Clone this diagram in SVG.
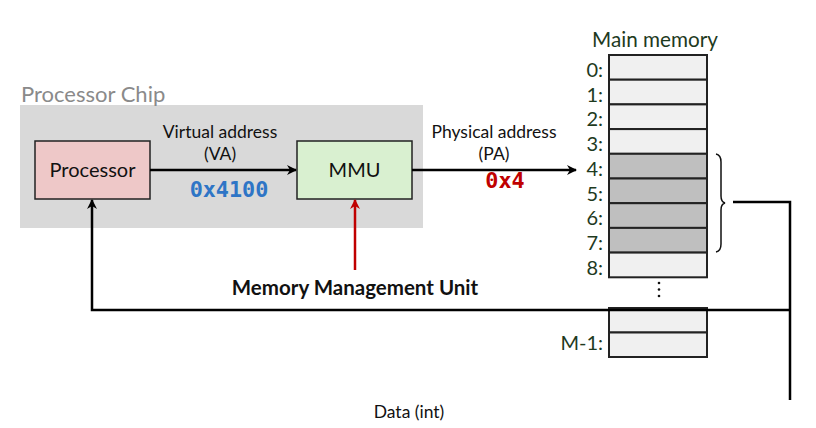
<svg xmlns="http://www.w3.org/2000/svg" width="816" height="428" viewBox="0 0 816 428">
<defs>
<marker id="ah" viewBox="0 0 10 10" refX="9" refY="5" markerWidth="10" markerHeight="10" markerUnits="userSpaceOnUse" orient="auto">
<path d="M0,0 L10,5 L0,10 L3,5 Z" fill="#000"/>
</marker>
<marker id="ahr" viewBox="0 0 10 10" refX="9" refY="5" markerWidth="10" markerHeight="10" markerUnits="userSpaceOnUse" orient="auto">
<path d="M0,0 L10,5 L0,10 L3,5 Z" fill="#c00000"/>
</marker>
<style>
text{font-family:Lato,"Liberation Sans",sans-serif}
.lbl{font-size:17.5px;fill:#111;text-anchor:middle}
.mem{font-size:20px;fill:#1e3a1e;text-anchor:end}
.cell{fill:#f0f0f0;stroke:#222;stroke-width:2}
.dark{fill:#bfbfbf;stroke:#222;stroke-width:2}
.conn{fill:none;stroke:#000;stroke-width:2.5}
.code{font-family:"DejaVu Sans Mono","Liberation Mono",monospace;font-weight:bold;font-size:21.8px;text-anchor:middle}
</style>
</defs>
<g id="chip">
<rect x="20" y="105" width="403" height="123" fill="#d9d9d9"/>
<text x="21" y="102" font-size="22" fill="#8a8a8a">Processor Chip</text>
</g>
<g id="processor">
<rect x="35" y="141" width="115" height="58" fill="#eec8c8" stroke="#222" stroke-width="1.5"/>
<text x="92.5" y="177" font-size="20" text-anchor="middle" fill="#111">Processor</text>
</g>
<g id="mmu">
<rect x="297" y="141" width="115" height="58" fill="#d9f0d0" stroke="#222" stroke-width="1.5"/>
<text x="354.5" y="177" font-size="20" text-anchor="middle" fill="#111">MMU</text>
</g>
<g id="memory">
<text x="655" y="47" font-size="20.7" text-anchor="middle" fill="#1e3a1e">Main memory</text>
<rect class="cell" x="609" y="55" width="98" height="24.7"/>
<rect class="cell" x="609" y="79.7" width="98" height="24.7"/>
<rect class="cell" x="609" y="104.4" width="98" height="24.7"/>
<rect class="cell" x="609" y="129.1" width="98" height="24.7"/>
<rect class="dark" x="609" y="153.8" width="98" height="24.7"/>
<rect class="dark" x="609" y="178.5" width="98" height="24.7"/>
<rect class="dark" x="609" y="203.2" width="98" height="24.7"/>
<rect class="dark" x="609" y="227.9" width="98" height="24.7"/>
<rect class="cell" x="609" y="252.6" width="98" height="24.7"/>
<rect class="cell" x="609" y="308" width="98" height="24.5"/>
<rect class="cell" x="609" y="332.5" width="98" height="24.5"/>
<text class="mem" x="603" y="77">0:</text>
<text class="mem" x="603" y="101.7">1:</text>
<text class="mem" x="603" y="126.4">2:</text>
<text class="mem" x="603" y="151.1">3:</text>
<text class="mem" x="603" y="175.8">4:</text>
<text class="mem" x="603" y="200.5">5:</text>
<text class="mem" x="603" y="225.2">6:</text>
<text class="mem" x="603" y="249.9">7:</text>
<text class="mem" x="603" y="274.6">8:</text>
<text class="mem" x="603" y="350">M-1:</text>
<circle cx="659" cy="283" r="1.3" fill="#111"/>
<circle cx="659" cy="289.5" r="1.3" fill="#111"/>
<circle cx="659" cy="296" r="1.3" fill="#111"/>
<path d="M716,154 Q721,155 721,162 L721,196 Q721,202 725,203 Q721,204 721,210 L721,244 Q721,251 716,252" fill="none" stroke="#111" stroke-width="1.5"/>
</g>
<g id="labels">
<text class="lbl" x="220" y="138">Virtual address</text>
<text class="lbl" x="220" y="160">(VA)</text>
<text class="code" x="229" y="197" fill="#2e75c6">0x4100</text>
<text class="lbl" x="494" y="138">Physical address</text>
<text class="lbl" x="494" y="160">(PA)</text>
<text class="code" x="505" y="188" fill="#c00000">0x4</text>
<text x="355" y="295" font-size="20.5" font-weight="bold" text-anchor="middle" fill="#111">Memory Management Unit</text>
<text x="409" y="418" font-size="17.5" text-anchor="middle" fill="#111">Data (int)</text>
</g>
<g id="connectors">
<line class="conn" x1="150" y1="170" x2="296" y2="170" marker-end="url(#ah)"/>
<line class="conn" x1="412" y1="170" x2="576" y2="170" marker-end="url(#ah)"/>
<line x1="355" y1="270" x2="355" y2="200" stroke="#c00000" stroke-width="2.5" marker-end="url(#ahr)"/>
<polyline class="conn" points="733,202 790,202 790,400"/>
<polyline class="conn" points="790,310 92,310 92,200" marker-end="url(#ah)"/>
</g>
</svg>
